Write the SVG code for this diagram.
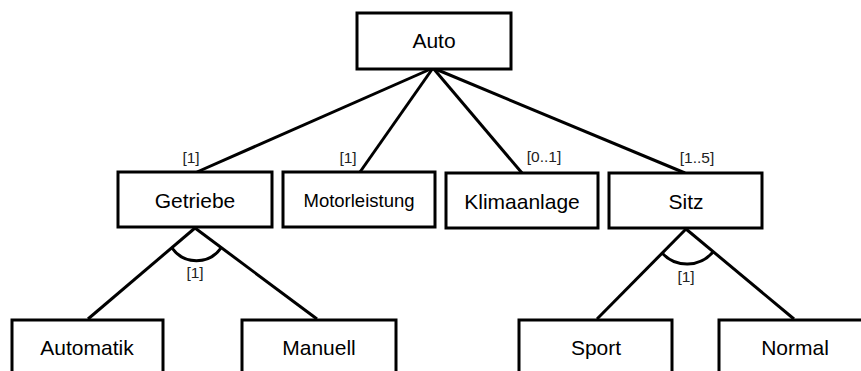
<svg xmlns="http://www.w3.org/2000/svg" width="861" height="371" viewBox="0 0 861 371">
  <style>
    .box { fill: #ffffff; stroke: #000000; stroke-width: 3; }
    .edge { fill: none; stroke: #000000; stroke-width: 3; }
    .lbl { font-family: "Liberation Sans", Arial, sans-serif; font-size: 21px; fill: #000000; text-anchor: middle; }
    .lbl-s { font-size: 18.5px; }
    .card { font-family: "Liberation Sans", Arial, sans-serif; font-size: 15.5px; fill: #222222; text-anchor: middle; }
  </style>
  <rect width="861" height="371" fill="#ffffff"/>

  <!-- connectors -->
  <g id="connectors">
    <line class="edge" x1="433" y1="68" x2="197" y2="172"/>
    <line class="edge" x1="433" y1="68" x2="360" y2="172"/>
    <line class="edge" x1="433" y1="68" x2="522" y2="173"/>
    <line class="edge" x1="433" y1="68" x2="685" y2="173"/>
    <!-- Getriebe alternatives -->
    <line class="edge" x1="195" y1="228" x2="88" y2="319"/>
    <line class="edge" x1="195" y1="228" x2="317" y2="319"/>
    <path class="edge" d="M 172 248 A 30 30 0 0 0 221 248"/>
    <!-- Sitz alternatives -->
    <line class="edge" x1="686" y1="229" x2="597" y2="319"/>
    <line class="edge" x1="686" y1="229" x2="794" y2="319"/>
    <path class="edge" d="M 662 253 A 34 34 0 0 0 713 252"/>
    <!-- cardinalities -->
    <text class="card" x="191" y="163">[1]</text>
    <text class="card" x="348" y="163">[1]</text>
    <text class="card" x="544" y="162">[0..1]</text>
    <text class="card" x="697" y="163">[1..5]</text>
    <text class="card" x="195" y="278">[1]</text>
    <text class="card" x="686" y="282">[1]</text>
  </g>

  <g id="auto">
    <rect class="box" x="357" y="13" width="154" height="56"/>
    <text class="lbl" x="434" y="48">Auto</text>
  </g>
  <g id="getriebe">
    <rect class="box" x="118" y="172" width="154" height="55"/>
    <text class="lbl" x="195" y="208">Getriebe</text>
  </g>
  <g id="motorleistung">
    <rect class="box" x="283" y="172" width="152" height="55"/>
    <text class="lbl lbl-s" x="359" y="207">Motorleistung</text>
  </g>
  <g id="klimaanlage">
    <rect class="box" x="446" y="173" width="152" height="55"/>
    <text class="lbl" x="522" y="209">Klimaanlage</text>
  </g>
  <g id="sitz">
    <rect class="box" x="609" y="173" width="153" height="55"/>
    <text class="lbl" x="686" y="209">Sitz</text>
  </g>
  <g id="automatik">
    <rect class="box" x="12" y="320" width="151" height="70"/>
    <text class="lbl" x="87" y="355">Automatik</text>
  </g>
  <g id="manuell">
    <rect class="box" x="242" y="320" width="154" height="70"/>
    <text class="lbl" x="319" y="355">Manuell</text>
  </g>
  <g id="sport">
    <rect class="box" x="519" y="320" width="153" height="70"/>
    <text class="lbl" x="596" y="355">Sport</text>
  </g>
  <g id="normal">
    <rect class="box" x="719" y="320" width="160" height="70"/>
    <text class="lbl" x="795" y="355">Normal</text>
  </g>
</svg>
